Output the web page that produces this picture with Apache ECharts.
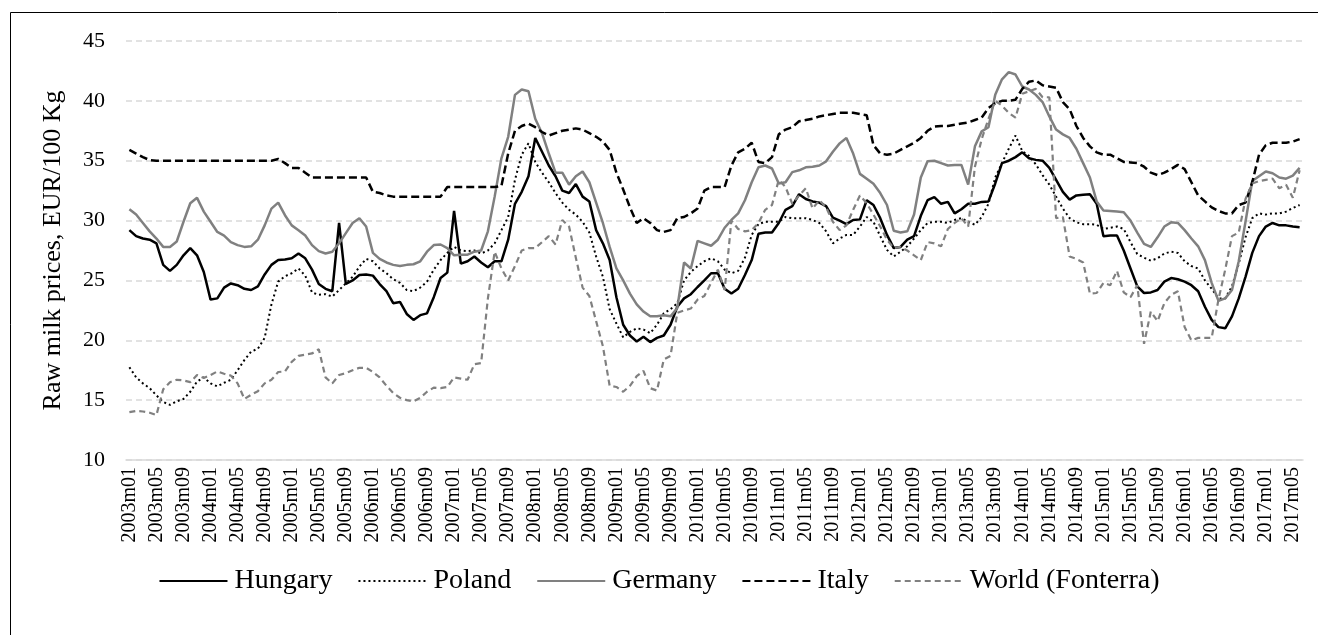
<!DOCTYPE html>
<html>
<head>
<meta charset="utf-8">
<script src="https://cdn.jsdelivr.net/npm/echarts@6/dist/echarts.min.js"></script>
<style>
html,body{margin:0;padding:0;background:#fff;}
#chart{width:1318px;height:635px;}
</style>
</head>
<body>
<div id="chart"></div>
<script>
// Monthly categories 2003m01 .. 2017m06
const startYear = 2003, endYear = 2017, endMonth = 6;
const categories = [];
for (let y = startYear; y <= endYear; y++) {
  for (let m = 1; m <= 12; m++) {
    if (y === endYear && m > endMonth) break;
    categories.push(y + 'm' + (m < 10 ? '0' + m : m));
  }
}

const yTicks = [10, 15, 20, 25, 30, 35, 40, 45];

const hungary = [
29.2,28.7,28.5,28.4,28.1,26.3,25.8,26.3,27.1,27.7,
27.1,25.7,23.4,23.5,24.4,24.75,24.6,24.3,24.2,24.5,
25.5,26.3,26.7,26.75,26.85,27.25,26.85,25.9,24.7,24.3,
24.1,29.8,24.7,25.0,25.45,25.5,25.4,24.7,24.1,23.1,
23.2,22.2,21.7,22.1,22.25,23.6,25.2,25.65,30.8,26.4,
26.6,27.0,26.5,26.1,26.6,26.6,28.4,31.4,32.4,33.7,
36.9,35.75,34.6,33.7,32.5,32.3,33.05,32.0,31.6,29.2,
28.1,26.7,23.6,21.3,20.4,19.9,20.3,19.85,20.2,20.4,
21.3,22.8,23.5,23.85,24.45,25.0,25.6,25.6,24.3,23.9,
24.3,25.45,26.7,28.9,29.0,29.0,29.8,30.9,31.2,32.2,
31.8,31.6,31.5,31.2,30.25,30.0,29.7,30.05,30.1,31.7,
31.3,30.2,28.8,27.7,27.8,28.4,28.7,30.4,31.7,31.95,
31.4,31.56,30.6,30.95,31.4,31.4,31.56,31.6,33.1,34.8,
35.0,35.3,35.7,35.2,35.07,35.0,34.4,33.4,32.4,31.75,
32.1,32.15,32.2,31.4,28.7,28.75,28.75,27.5,26.0,24.5,
23.95,24.0,24.2,24.9,25.2,25.1,24.9,24.6,24.1,22.8,
21.7,21.1,21.0,22.0,23.5,25.3,27.3,28.7,29.5,29.8,
29.6,29.6,29.5,29.45
];

const poland = [
17.75,16.9,16.4,16.0,15.4,14.85,14.6,14.9,15.1,15.7,
16.55,16.9,16.4,16.15,16.45,16.7,17.5,18.35,19.05,19.3,
20.2,23.0,24.9,25.35,25.6,26.0,25.4,24.0,23.8,23.85,
23.65,24.2,24.75,25.3,26.15,26.8,26.6,26.0,25.6,25.1,
24.8,24.2,24.1,24.4,24.9,25.9,26.7,27.3,27.8,27.5,
27.45,27.5,27.25,27.5,28.1,29.2,30.3,33.4,35.5,36.45,
34.9,34.0,33.2,32.3,31.5,30.9,30.5,29.9,29.0,27.0,
25.3,22.6,21.4,20.25,20.7,21.0,20.9,20.6,21.3,22.25,
22.6,23.1,25.0,25.7,26.2,26.6,26.85,26.6,25.9,25.6,
25.8,26.9,28.8,29.7,29.9,29.9,29.9,30.3,30.2,30.2,
30.2,30.05,29.8,29.1,28.1,28.5,28.8,28.8,29.5,30.3,
29.9,28.7,27.55,27.0,27.4,27.85,28.5,29.2,29.8,29.9,
29.9,29.8,30.05,30.2,29.9,29.65,30.3,31.4,33.6,34.8,
36.0,37.1,35.8,35.4,34.7,33.8,33.0,32.0,31.0,30.2,
29.85,29.7,29.7,29.65,29.3,29.4,29.5,29.3,28.2,27.2,
26.9,26.65,26.85,27.25,27.4,27.3,26.6,26.2,26.0,25.0,
24.3,23.5,23.5,24.5,26.4,28.6,30.2,30.6,30.5,30.6,
30.6,30.75,31.05,31.3
];

const germany = [
30.95,30.5,29.8,29.1,28.5,27.8,27.8,28.25,29.9,31.45,
31.9,30.75,29.9,29.05,28.75,28.2,27.95,27.8,27.85,28.4,
29.6,31.0,31.5,30.45,29.6,29.2,28.75,27.95,27.45,27.25,
27.4,28.1,28.95,29.8,30.2,29.5,27.3,26.8,26.5,26.3,
26.2,26.3,26.35,26.6,27.4,27.95,28.0,27.7,27.1,27.15,
27.15,27.4,27.5,29.1,32.0,35.2,37.0,40.5,40.95,40.8,
38.5,37.3,35.6,34.0,34.0,33.0,33.7,34.1,33.2,31.5,
29.8,27.8,26.0,25.0,23.9,23.0,22.4,22.0,22.0,22.1,
22.0,22.7,26.5,26.0,28.3,28.1,27.9,28.4,29.4,30.05,
30.6,31.7,33.2,34.45,34.6,34.35,33.1,33.2,34.05,34.2,
34.45,34.5,34.6,34.95,35.75,36.45,36.9,35.6,33.9,33.5,
33.07,32.3,31.3,29.15,29.0,29.1,30.5,33.6,34.95,35.0,
34.8,34.6,34.65,34.65,33.0,36.2,37.45,37.8,40.5,41.8,
42.4,42.2,41.2,40.95,40.5,39.9,38.7,37.6,37.2,36.9,
36.0,34.8,33.6,31.6,30.85,30.8,30.75,30.7,30.0,29.0,
28.05,27.8,28.6,29.5,29.85,29.8,29.2,28.5,27.85,26.7,
24.8,23.3,23.5,24.2,26.6,29.9,33.3,33.7,34.1,33.95,
33.6,33.5,33.75,34.4
];

const italy = [
35.9,35.6,35.3,35.05,35.0,35.0,35.0,35.0,35.0,35.0,
35.0,35.0,35.0,35.0,35.0,35.0,35.0,35.0,35.0,35.0,
35.0,35.0,35.15,34.8,34.4,34.4,34.0,33.6,33.6,33.6,
33.6,33.6,33.6,33.6,33.6,33.6,32.4,32.3,32.1,32.0,
32.0,32.0,32.0,32.0,32.0,32.0,32.0,32.8,32.8,32.8,
32.8,32.8,32.8,32.8,32.8,32.9,35.6,37.5,37.9,38.1,
37.8,37.4,37.1,37.3,37.5,37.6,37.7,37.6,37.3,37.0,
36.6,35.9,34.0,32.6,31.1,29.8,30.2,29.8,29.2,29.05,
29.2,30.2,30.3,30.6,31.0,32.5,32.8,32.8,32.8,34.6,
35.7,36.0,36.5,34.9,34.8,35.3,37.2,37.6,37.8,38.3,
38.4,38.5,38.7,38.8,38.9,39.0,39.0,39.0,38.9,38.8,
36.3,35.6,35.5,35.6,35.9,36.2,36.5,36.9,37.5,37.85,
37.9,37.9,38.0,38.1,38.2,38.4,38.6,39.4,39.8,40.0,
40.0,40.1,41.0,41.6,41.7,41.3,41.2,41.1,39.9,39.3,
37.9,36.9,36.2,35.7,35.5,35.5,35.2,34.9,34.85,34.8,
34.5,34.0,33.8,34.0,34.3,34.65,34.3,33.2,32.1,31.6,
31.1,30.8,30.6,30.6,31.3,31.5,33.2,35.5,36.3,36.5,
36.5,36.5,36.6,36.8
];

const world = [
14.0,14.1,14.05,13.95,13.75,15.9,16.5,16.7,16.65,16.5,
17.1,16.85,17.1,17.4,17.2,17.05,16.4,15.1,15.45,15.75,
16.4,16.7,17.35,17.4,18.2,18.7,18.8,18.9,19.25,16.9,
16.4,17.1,17.25,17.5,17.7,17.7,17.35,16.9,16.2,15.6,
15.2,15.0,14.9,15.2,15.7,16.05,16.0,16.1,16.9,16.8,
16.7,18.0,18.1,23.5,27.4,26.0,25.0,26.2,27.5,27.7,
27.7,28.2,28.7,28.0,30.05,29.5,26.9,24.4,23.7,21.6,
19.5,16.2,16.1,15.7,16.2,17.0,17.45,16.0,15.8,18.4,
18.7,22.3,22.5,22.65,23.4,23.7,24.8,25.9,24.2,30.0,
29.3,29.1,29.2,29.8,30.9,31.3,33.4,32.8,31.4,32.1,
32.7,31.0,31.7,31.1,29.9,29.2,29.6,30.9,32.1,31.45,
30.5,29.5,28.4,27.7,27.8,27.5,27.1,26.7,28.2,28.1,
27.85,29.3,29.8,30.2,29.5,34.5,36.8,38.5,40.0,39.6,
39.0,38.6,40.6,40.8,41.0,40.3,40.3,30.2,30.3,27.0,
26.8,26.5,23.9,23.95,24.8,24.6,25.8,24.0,23.6,24.6,
19.7,22.4,21.6,23.1,23.8,24.1,21.1,20.0,20.2,20.2,
20.2,23.4,25.9,28.7,29.0,31.8,33.1,33.3,33.4,33.5,
32.7,33.0,31.9,34.2
];

const seriesNames = ['Hungary', 'Poland', 'Germany', 'Italy', 'World (Fonterra)'];

const FONT = "'Liberation Serif','Times New Roman',serif";
const chart = echarts.init(document.getElementById('chart'), null, {renderer: 'canvas'});

function lineSeries(name, data, color, width, type) {
  return {
    name: name, type: 'line', data: data,
    symbol: 'none', showSymbol: false, smooth: false,
    lineStyle: {color: color, width: width, type: type},
    itemStyle: {color: color},
    emphasis: {disabled: true}
  };
}

chart.setOption({
  animation: false,
  backgroundColor: '#ffffff',
  textStyle: {fontFamily: FONT, color: '#000'},
  graphic: [{
    type: 'rect', silent: true,
    shape: {x: 10.5, y: 12.5, width: 1400, height: 700},
    style: {fill: 'none', stroke: '#000', lineWidth: 1}
  }],
  grid: {left: 126, right: 15, top: 41, bottom: 175, containLabel: false},
  xAxis: {
    type: 'category', data: categories, boundaryGap: true,
    axisLine: {show: true, lineStyle: {color: '#d9d9d9', width: 1.5}},
    axisTick: {show: false},
    splitLine: {show: false},
    axisLabel: {
      interval: 3, rotate: 90, margin: 7,
      fontFamily: FONT, fontSize: 20, color: '#000'
    }
  },
  yAxis: {
    type: 'value', min: yTicks[0], max: yTicks[yTicks.length - 1], interval: 5,
    name: 'Raw milk prices, EUR/100 Kg', nameLocation: 'middle', nameRotate: 90, nameGap: 60,
    nameTextStyle: {fontFamily: FONT, fontSize: 26, color: '#000'},
    axisLine: {show: false}, axisTick: {show: false},
    axisLabel: {margin: 21, fontFamily: FONT, fontSize: 22, color: '#000'},
    splitLine: {show: true, lineStyle: {color: '#d9d9d9', width: 1.5, type: [6, 4]}}
  },
  legend: {
    data: seriesNames, left: 'center', top: 562,
    itemWidth: 68, itemHeight: 14, itemGap: 25,
    itemStyle: {opacity: 0},
    textStyle: {fontFamily: FONT, fontSize: 28, color: '#000', padding: [0, 0, 0, 2]}
  },
  series: [
    lineSeries(seriesNames[0], hungary, '#000000', 2.5, 'solid'),
    lineSeries(seriesNames[1], poland, '#000000', 2, [2, 3]),
    lineSeries(seriesNames[2], germany, '#808080', 2.5, 'solid'),
    lineSeries(seriesNames[3], italy, '#000000', 2.5, [8, 4]),
    lineSeries(seriesNames[4], world, '#808080', 2.2, [6, 4])
  ]
});
</script>
</body>
</html>
